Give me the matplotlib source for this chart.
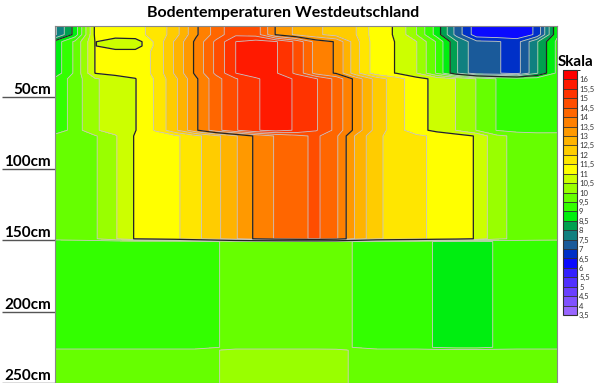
import numpy as np
import matplotlib
matplotlib.use("Agg")
import matplotlib.pyplot as plt
from matplotlib.colors import ListedColormap, BoundaryNorm

plt.rcParams['font.family'] = ['Lato', 'DejaVu Sans']

# 26 half-month columns along the x axis
columns = np.arange(26)

# soil layers, temperature in degC per half-month
layer_0_10 = [7.4, 8.7, 11.1, 11.3, 11.4, 11.6, 12.3, 13.4, 14.2, 14.9, 14.8, 13.45, 12.9,
              12.6, 12.3, 12.0, 11.2, 10.95, 10.0, 8.8, 7.3, 6.2, 6.1, 6.1, 6.6, 8.9]
layer_10_35 = [8.7, 9.6, 11.02, 11.2, 11.2, 11.6, 12.6, 13.6, 14.6, 15.5, 15.7, 15.55, 14.9,
               13.8, 13.45, 12.15, 11.2, 10.98, 10.52, 9.45, 8.05, 7.1, 7.05, 6.8, 7.95, 9.1]
layer_10_15 = [8.7, 9.6, 11.02, 10.7, 10.7, 11.6, 12.6, 13.6, 14.6, 15.5, 15.7, 15.55, 14.9,
               13.8, 13.45, 12.15, 11.2, 10.98, 10.52, 9.45, 8.05, 7.1, 7.05, 6.8, 7.95, 9.1]
layer_35_75 = [9.1, 9.75, 10.45, 10.7, 10.98, 11.55, 12.4, 13.4, 14.3, 14.95, 15.45, 15.7, 15.45,
               15.05, 14.35, 13.3, 12.3, 11.7, 11.2, 10.85, 10.48, 9.98, 9.48, 9.3, 9.25, 9.3]
layer_75_150 = [9.7, 9.8, 9.95, 10.45, 11.05, 11.2, 11.4, 11.85, 12.35, 12.95, 13.6, 14.05, 14.35,
                14.6, 14.1, 12.9, 12.1, 11.8, 11.6, 11.4, 11.25, 10.95, 10.1, 9.9, 9.8, 9.75]
layer_150_225 = [9.2, 9.2, 9.2, 9.2, 9.2, 9.2, 9.2, 9.2, 9.45, 9.7, 9.7, 9.7, 9.7,
                 9.7, 9.7, 9.45, 9.2, 9.2, 9.2, 8.95, 8.8, 8.8, 9.05, 9.2, 9.2, 9.2]
layer_225_250 = [9.7, 9.7, 9.7, 9.7, 9.7, 9.7, 9.7, 9.7, 9.95, 10.2, 10.2, 10.2, 10.2,
                 10.2, 10.15, 9.9, 9.7, 9.7, 9.7, 9.7, 9.7, 9.7, 9.7, 9.7, 9.7, 9.7]

depths = [0, 6, 11, 14, 18, 33, 37, 73, 77, 149, 151, 225, 227, 250]
rows = [layer_0_10, layer_0_10, layer_10_15, layer_10_15, layer_10_35, layer_10_35,
        layer_35_75, layer_35_75, layer_75_150, layer_75_150,
        layer_150_225, layer_150_225, layer_225_250, layer_225_250]

levels = np.arange(3.5, 16.51, 0.5)
major_levels = [6, 8.5, 11, 13.5, 16]
scale_colors = ['#9966ff', '#8052ff', '#6a40ff', '#5030ff', '#3320ff', '#0a0aff',
                '#0030c8', '#1a5a9a', '#108080', '#00a050', '#00ee10', '#33ff00',
                '#66ff00', '#99ff00', '#ccff00', '#ffff00', '#ffe600', '#ffcc00',
                '#ffb300', '#ff9900', '#ff8000', '#ff6600', '#ff4d00', '#ff3300',
                '#ff1a00', '#ff0000']
depth_ticks = [50, 100, 150, 200, 250]

cmap = ListedColormap(scale_colors)
norm = BoundaryNorm(levels, cmap.N)
temps = np.array(rows)

fig = plt.figure(figsize=(6, 3.83), dpi=100)
ax = fig.add_axes([55 / 600, 0, 502 / 600, 357 / 383])

cs = ax.contourf(columns, depths, temps, levels=levels, cmap=cmap, norm=norm)
ax.contour(columns, depths, temps, levels=levels, colors='#c8c8c8', linewidths=0.6)
ax.contour(columns, depths, temps, levels=major_levels, colors='#222222', linewidths=0.9)

ax.set_xlim(columns[0], columns[-1])
ax.set_ylim(250, 0)
ax.set_xticks([])
ax.set_yticks(depth_ticks)
ax.set_yticklabels([f"{d}cm" for d in depth_ticks])
ax.tick_params(axis='y', length=38, width=1, color='#555555', pad=-35,
               labelsize=11)
for lab in ax.get_yticklabels():
    lab.set_fontweight('bold')
    lab.set_va('bottom')
for s in ax.spines.values():
    s.set_color('#888888')
    s.set_linewidth(0.8)

fig.text(283 / 600, 1 - 13 / 383, "Bodentemperaturen Westdeutschland",
         ha='center', va='center', fontsize=11.5, fontweight='bold')
fig.text(576 / 600, 1 - 62 / 383, "Skala", ha='center', va='center',
         fontsize=11, fontweight='bold')

cax = fig.add_axes([563 / 600, 1 - 315 / 383, 14 / 600, 245 / 383])
cb = fig.colorbar(cs, cax=cax, ticks=levels[:-1], drawedges=True)
cb.set_ticklabels([f"{v:g}".replace('.', ',') for v in levels[:-1]])
cb.outline.set_edgecolor('#333333')
cb.outline.set_linewidth(0.8)
cb.dividers.set_color('#333333')
cb.dividers.set_linewidth(0.6)
cax.tick_params(length=0, labelsize=5.5, pad=1.5, labelcolor='#333333')

fig.savefig("out.png", dpi=100)
